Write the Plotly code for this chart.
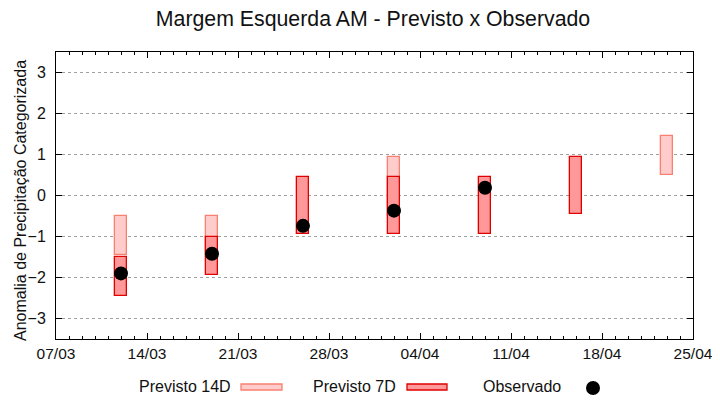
import plotly.graph_objects as go

# ---- data ----
dates = ["2018-03-12", "2018-03-19", "2018-03-26", "2018-04-02",
         "2018-04-09", "2018-04-16", "2018-04-23"]
p14_top = [-0.5, -0.5, None, 0.95, None, None, 1.45]
p14_bot = [-1.45, -1.45, None, -0.5, None, None, 0.5]
p7_top = [-1.5, -1.0, 0.45, 0.45, 0.45, 0.95, None]
p7_bot = [-2.45, -1.95, -0.95, -0.95, -0.95, -0.45, None]
obs_dates = ["2018-03-12", "2018-03-19", "2018-03-26", "2018-04-02", "2018-04-09"]
obs_vals = [-1.9, -1.42, -0.74, -0.37, 0.19]

title = "Margem Esquerda AM - Previsto x Observado"
ylabel = "Anomalia de Precipitação Categorizada"
legend_labels = ["Previsto 14D", "Previsto 7D", "Observado"]

c14_fill, c14_line = "#ffcccc", "#f88070"
c7_fill, c7_line = "#ff9999", "#e00000"

DAY = 86400000
FONT = "Liberation Sans, Arial, sans-serif"

def span(tops, bots):
    xs, bases, heights = [], [], []
    for d, t, b in zip(dates, tops, bots):
        if t is None:
            continue
        xs.append(d)
        bases.append(b)
        heights.append(t - b)
    return xs, bases, heights

fig = go.Figure()
x14, b14, h14 = span(p14_top, p14_bot)
fig.add_trace(go.Bar(x=x14, y=h14, base=b14, width=0.92 * DAY,
                     marker=dict(color=c14_fill, line=dict(color=c14_line, width=1.3)),
                     showlegend=False))
x7, b7, h7 = span(p7_top, p7_bot)
fig.add_trace(go.Bar(x=x7, y=h7, base=b7, width=0.92 * DAY,
                     marker=dict(color=c7_fill, line=dict(color=c7_line, width=1.3)),
                     showlegend=False))
fig.add_trace(go.Scatter(x=obs_dates, y=obs_vals, mode="markers",
                         marker=dict(color="black", size=14, line=dict(width=0)),
                         showlegend=False))

# page is offset by the 8px body margin; figure coordinates = page - 8
OFF = 8
W, H = 720, 400
PL, PR, PT, PB = 56, 693, 52, 339          # plot area in page pixels
L, T = PL - OFF, PT - OFF
pw, ph = PR - PL, PB - PT
R, B = W - L - pw, H - T - ph

def px(x):
    return (x - PL) / pw

def py(y):
    return (PB - y) / ph

shapes = [
    dict(type="rect", xref="paper", yref="paper", x0=px(241), x1=px(282),
         y0=py(390), y1=py(384), fillcolor=c14_fill, line=dict(color=c14_line, width=1.3)),
    dict(type="rect", xref="paper", yref="paper", x0=px(407), x1=px(447),
         y0=py(390), y1=py(384), fillcolor=c7_fill, line=dict(color=c7_line, width=1.3)),
    dict(type="circle", xref="paper", yref="paper", x0=px(586), x1=px(600),
         y0=py(395), y1=py(381), fillcolor="black", line=dict(color="black", width=0)),
]
annotations = [
    dict(text=lab, xref="paper", yref="paper", x=px(xr), y=py(386),
         xanchor="right", yanchor="middle", showarrow=False,
         font=dict(family=FONT, size=16, color="#111"))
    for lab, xr in zip(legend_labels, [233, 398, 563])
]
annotations.append(
    dict(text=ylabel, xref="paper", yref="paper", x=px(20), y=py(201),
         xanchor="center", yanchor="middle", textangle=-90, showarrow=False,
         font=dict(family=FONT, size=16, color="#111"))
)

fig.update_layout(
    width=W, height=H,
    margin=dict(l=L, r=R, t=T, b=B),
    plot_bgcolor="white", paper_bgcolor="white",
    barmode="overlay", bargap=0,
    font=dict(family=FONT, size=16, color="#111"),
    title=dict(text=title, x=(373 - OFF) / W, xanchor="center",
               y=1 - (19 - OFF) / H, yanchor="middle",
               font=dict(family=FONT, size=21.3, color="#111")),
    shapes=shapes, annotations=annotations,
    showlegend=False,
)
fig.update_xaxes(
    type="date", range=["2018-03-07", "2018-04-25"],
    tick0="2018-03-07", dtick=7 * DAY, tickformat="%d/%m",
    ticks="inside", ticklen=6, tickcolor="black",
    minor=dict(dtick=DAY, ticks="inside", ticklen=3, tickcolor="black", showgrid=False),
    showline=True, linecolor="black", linewidth=1, mirror="allticks",
    showgrid=False, zeroline=False,
    tickfont=dict(family=FONT, size=15.5, color="#111"),
)
fig.update_yaxes(
    range=[-3.5, 3.5], tickvals=[-3, -2, -1, 0, 1, 2, 3],
    ticks="inside", ticklen=6, tickcolor="black",
    showline=True, linecolor="black", linewidth=1, mirror="allticks",
    showgrid=True, gridcolor="#a0a0a0", griddash="dot", gridwidth=1,
    zeroline=False, ticklabelstandoff=6,
    tickfont=dict(family=FONT, size=16, color="#111"),
)

fig.write_html("out.html")
